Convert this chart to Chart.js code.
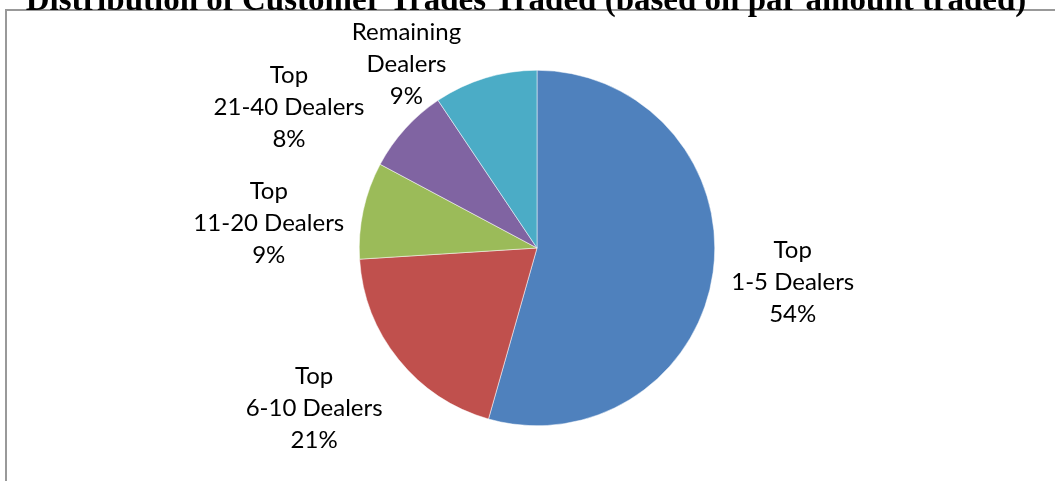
<!DOCTYPE html>
<html>
<head>
<meta charset="utf-8">
<script src="https://cdn.jsdelivr.net/npm/chart.js@4"></script>
<style>
  html, body { margin: 0; padding: 0; background: #fff; }
  #wrap { width: 1055px; height: 481px; position: relative; }
</style>
</head>
<body>
<div id="wrap"><canvas id="pie"></canvas></div>
<script>
const categories = ['Top 1-5 Dealers', 'Top 6-10 Dealers', 'Top 11-20 Dealers', 'Top 21-40 Dealers', 'Remaining Dealers'];
const labelLines = [['Top', '1-5 Dealers'], ['Top', '6-10 Dealers'], ['Top', '11-20 Dealers'], ['Top', '21-40 Dealers'], ['Remaining', 'Dealers']];
// slice sizes (percent of par amount)
const shares = [54.4, 19.6, 8.8, 7.8, 9.4];
// percentages printed on the labels
const shownPct = ['54%', '21%', '9%', '8%', '9%'];
const colors = ['#4F81BD', '#C0504D', '#9BBB59', '#8064A2', '#4BACC6'];

const titleText = 'Distribution of Customer Trades Traded (based on par amount traded)';

// nudges for outside-end labels, like Excel's placement
const labelNudge = [[-7, -2], [-4, -16], [7, 35], [-36, 51], [-55, 65]];
const LABEL_FONT = '24px Lato';
const LINE_H = 32;
const GAP = 20;

const framePlugin = {
  id: 'frame',
  beforeDraw(chart) {
    const ctx = chart.ctx;
    ctx.save();
    ctx.fillStyle = '#fff';
    ctx.fillRect(0, 0, chart.width, chart.height);
    ctx.strokeStyle = '#999';
    ctx.lineWidth = 2;
    ctx.strokeRect(6, 10, chart.width + 20, chart.height + 20);
    ctx.fillStyle = '#000';
    ctx.font = 'bold 33px "Liberation Serif"';
    ctx.textAlign = 'center';
    ctx.textBaseline = 'alphabetic';
    ctx.fillText(titleText, 526, 10);
    ctx.restore();
  }
};

const labelPlugin = {
  id: 'outsideLabels',
  afterDatasetsDraw(chart) {
    const ctx = chart.ctx;
    const arcs = chart.getDatasetMeta(0).data;
    ctx.save();
    ctx.font = LABEL_FONT;
    ctx.fillStyle = '#000';
    ctx.textAlign = 'center';
    ctx.textBaseline = 'middle';
    arcs.forEach((arc, i) => {
      const { x, y, startAngle, endAngle, outerRadius } = arc.getProps(['x', 'y', 'startAngle', 'endAngle', 'outerRadius'], true);
      const mid = (startAngle + endAngle) / 2;
      const ux = Math.cos(mid), uy = Math.sin(mid);
      const lines = labelLines[i].concat([shownPct[i]]);
      const w = Math.max(...lines.map(l => ctx.measureText(l).width)) / 2;
      const h = lines.length * LINE_H / 2;
      const d = outerRadius + GAP + Math.abs(ux) * w + Math.abs(uy) * h;
      const cx = x + ux * d + labelNudge[i][0];
      const cy = y + uy * d + labelNudge[i][1];
      lines.forEach((l, k) => {
        ctx.fillText(l, cx, cy - h + LINE_H / 2 + k * LINE_H);
      });
    });
    ctx.restore();
  }
};

new Chart(document.getElementById('pie'), {
  type: 'pie',
  data: {
    labels: categories,
    datasets: [{
      data: shares,
      backgroundColor: colors,
      borderColor: '#ffffff',
      borderWidth: 0.5
    }]
  },
  options: {
    responsive: true,
    maintainAspectRatio: false,
    animation: false,
    layout: { padding: { top: 70, bottom: 55, left: 359, right: 340 } },
    plugins: {
      legend: { display: false },
      tooltip: { enabled: false },
      title: { display: false }
    }
  },
  plugins: [framePlugin, labelPlugin]
});
</script>
</body>
</html>
